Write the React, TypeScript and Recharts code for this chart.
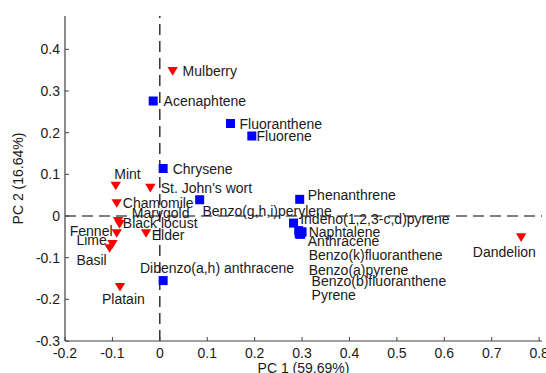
import {
  ReferenceLine,
  Scatter,
  ScatterChart,
  XAxis,
  YAxis,
} from "recharts";

// plant samples (red triangles)
const plantNames = [
  "Mulberry", "Mint", "St. John's wort", "Chamomile", "Marygold", "Black locust",
  "Fennel", "Elder", "Lime", "Basil", "Platain", "Dandelion",
];
const plantPc1 = [0.027, -0.093, -0.02, -0.091, -0.088, -0.085, -0.091, -0.029, -0.1, -0.106, -0.084, 0.762];
const plantPc2 = [0.347, 0.072, 0.067, 0.03, -0.013, -0.02, -0.042, -0.042, -0.068, -0.078, -0.171, -0.052];
// where each plant label was written (data units)
const plantLabelPc1 = [0.048, -0.096, 0.002, -0.078, -0.059, -0.078, -0.19, -0.017, -0.176, -0.176, -0.122, 0.66];
const plantLabelPc2 = [0.347, 0.1, 0.067, 0.032, 0.008, -0.017, -0.036, -0.045, -0.058, -0.106, -0.2, -0.087];

// PAH loadings (blue squares)
const pahNames = [
  "Acenaphtene", "Fluoranthene", "Fluorene", "Chrysene", "Benzo(g,h,i)perylene",
  "Phenanthrene", "Indeno(1,2,3-c,d)pyrene", "Naphtalene", "Anthracene",
  "Benzo(k)fluoranthene", "Benzo(a)pyrene", "Benzo(b)fluoranthene", "Pyrene",
  "Dibenzo(a,h) anthracene",
];
const pahPc1 = [-0.014, 0.149, 0.194, 0.007, 0.084, 0.295, 0.282, 0.293, 0.298, 0.296, 0.3, 0.297, 0.294, 0.007];
const pahPc2 = [0.276, 0.222, 0.192, 0.114, 0.039, 0.04, -0.017, -0.035, -0.04, -0.042, -0.038, -0.044, -0.043, -0.155];
const pahLabelPc1 = [0.008, 0.168, 0.204, 0.027, 0.09, 0.312, 0.296, 0.314, 0.312, 0.314, 0.314, 0.32, 0.32, -0.042];
const pahLabelPc2 = [0.276, 0.222, 0.192, 0.113, 0.012, 0.05, -0.006, -0.038, -0.061, -0.094, -0.129, -0.156, -0.19, -0.124];

const xTicks = [-0.2, -0.1, 0, 0.1, 0.2, 0.3, 0.4, 0.5, 0.6, 0.7, 0.8];
const yTicks = [-0.3, -0.2, -0.1, 0, 0.1, 0.2, 0.3, 0.4];

const plants = plantNames.map((name, i) => ({ name, x: plantPc1[i], y: plantPc2[i] }));
const pahs = pahNames.map((name, i) => ({ name, x: pahPc1[i], y: pahPc2[i] }));
const labels = [
  ...plantNames.map((name, i) => ({ name, x: plantLabelPc1[i], y: plantLabelPc2[i] })),
  ...pahNames.map((name, i) => ({ name, x: pahLabelPc1[i], y: pahLabelPc2[i] })),
];

const FONT = "'Liberation Sans', Arial, sans-serif";
const FRAME = "#404040";
const TEXT = "#1a1a1a";
const FS = 14;

const fmt = (v: number) => (v === 0 ? "0" : v.toFixed(1));

const Triangle = (props: any) => {
  const { cx, cy } = props;
  const w = 5.2;
  const h = 4.3;
  return <path d={`M${cx - w},${cy - h}L${cx + w},${cy - h}L${cx},${cy + h}Z`} fill="#ff0000" />;
};

const Square = (props: any) => {
  const { cx, cy } = props;
  return <rect x={cx - 4.5} y={cy - 4.5} width={9} height={9} fill="#0000ff" />;
};

const LabelText = (props: any) => {
  const { cx, cy, payload } = props;
  return (
    <text x={cx} y={cy} dy="0.36em" fontSize={FS} fontFamily={FONT} fill={TEXT}>
      {payload.name}
    </text>
  );
};

const axisStyle = { stroke: FRAME, strokeWidth: 1.2 };
const tickStyle = { fill: TEXT, fontSize: FS, fontFamily: FONT };

export default function App() {
  return (
    <div style={{ position: "absolute", left: 0, top: 0, background: "#fff" }}>
      <ScatterChart width={546} height={373} margin={{ top: 16, right: 4, bottom: 0, left: 0 }}>
        <XAxis
          type="number"
          dataKey="x"
          domain={[-0.2, 0.806]}
          ticks={xTicks}
          tickFormatter={fmt}
          allowDataOverflow
          height={32}
          axisLine={axisStyle}
          tickLine={{ stroke: FRAME }}
          tickSize={-4}
          tickMargin={11}
          tick={tickStyle}
          interval={0}
          label={{
            value: "PC 1 (59.69%)",
            position: "insideBottom",
            offset: 0,
            style: { fill: TEXT, fontSize: FS, fontFamily: FONT },
          }}
        />
        <XAxis
          xAxisId="top"
          orientation="top"
          type="number"
          dataKey="x"
          domain={[-0.2, 0.806]}
          ticks={xTicks}
          allowDataOverflow
          height={0}
          axisLine={axisStyle}
          tickLine={{ stroke: FRAME }}
          tickSize={-4}
          tick={() => <g />}
          interval={0}
        />
        <YAxis
          type="number"
          dataKey="y"
          domain={[-0.3, 0.48]}
          ticks={yTicks}
          tickFormatter={fmt}
          allowDataOverflow
          width={65}
          axisLine={axisStyle}
          tickLine={{ stroke: FRAME }}
          tickSize={-4}
          tickMargin={9}
          tick={tickStyle}
          interval={0}
          label={{
            value: "PC 2 (16.64%)",
            angle: -90,
            position: "insideLeft",
            offset: 18,
            style: { fill: TEXT, fontSize: FS, fontFamily: FONT, textAnchor: "middle" },
          }}
        />
        <YAxis
          yAxisId="right"
          orientation="right"
          type="number"
          dataKey="y"
          domain={[-0.3, 0.48]}
          ticks={yTicks}
          allowDataOverflow
          width={0}
          axisLine={axisStyle}
          tickLine={{ stroke: FRAME }}
          tickSize={-4}
          tick={() => <g />}
          interval={0}
        />
        <ReferenceLine x={0} stroke="#000" strokeWidth={1.2} strokeDasharray="11 6" />
        <ReferenceLine y={0} stroke="#000" strokeWidth={1.2} strokeDasharray="11 6" />
        <Scatter data={labels} shape={LabelText} isAnimationActive={false} />
        <Scatter data={pahs} shape={Square} isAnimationActive={false} />
        <Scatter data={plants} shape={Triangle} isAnimationActive={false} />
      </ScatterChart>
    </div>
  );
}
